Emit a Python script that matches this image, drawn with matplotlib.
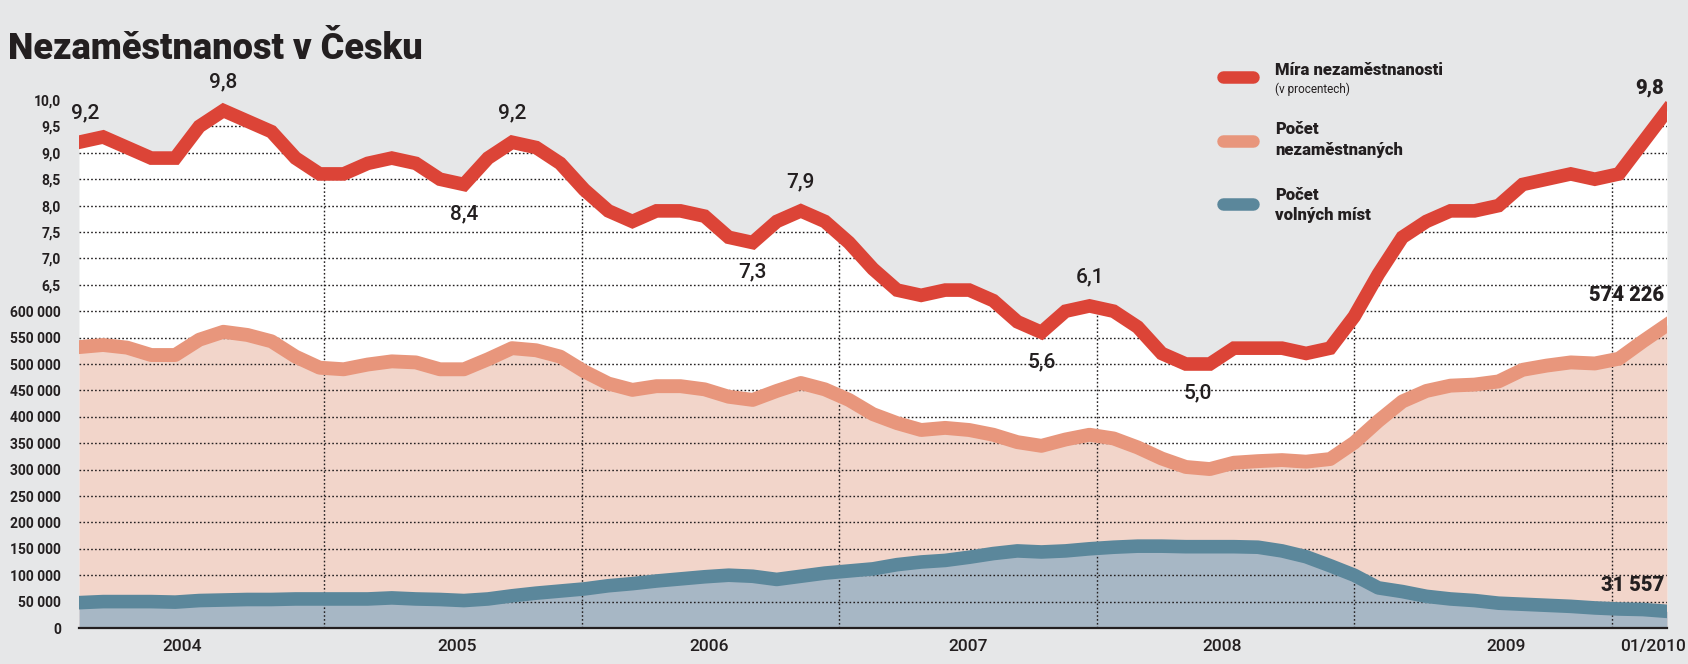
import numpy as np
import matplotlib
matplotlib.use('Agg')
import matplotlib.pyplot as plt
from matplotlib.lines import Line2D

# míra nezaměstnanosti v % (měsíční body, poslední = 01/2010)
mira = [9.2, 9.3, 9.1, 8.9, 8.9, 9.5, 9.8, 9.6, 9.4, 8.9, 8.6, 8.6, 8.8, 8.9, 8.8,
        8.5, 8.4, 8.9, 9.2, 9.1, 8.8, 8.3, 7.9, 7.7, 7.9, 7.9, 7.8, 7.4, 7.3, 7.7,
        7.9, 7.7, 7.3, 6.8, 6.4, 6.3, 6.4, 6.4, 6.2, 5.8, 5.6, 6.0, 6.1, 6.0, 5.7,
        5.2, 5.0, 5.0, 5.3, 5.3, 5.3, 5.2, 5.3, 5.9, 6.7, 7.4, 7.7, 7.9, 7.9, 8.0,
        8.4, 8.5, 8.6, 8.5, 8.6, 9.2, 9.8]
# počet nezaměstnaných
nezamestnani = [532000, 536000, 531000, 517000, 517000, 546000, 561000, 555000, 543000,
                514000, 493000, 490000, 499000, 505000, 503000, 490000, 490000, 509000,
                530000, 526000, 514000, 486000, 463000, 451000, 458000, 458000, 452000,
                438000, 432000, 449000, 464000, 452000, 432000, 405000, 388000, 375000,
                379000, 375000, 366000, 352000, 345000, 357000, 366000, 359000, 342000,
                321000, 305000, 301000, 313000, 316000, 318000, 315000, 320000, 351000,
                392000, 429000, 449000, 459000, 461000, 467000, 489000, 497000, 503000,
                501000, 510000, 543000, 574226]
# počet volných míst
volna_mista = [48000, 50000, 50000, 50000, 49000, 52000, 53000, 54000, 54000, 55000,
               55000, 55000, 55000, 57000, 55000, 54000, 52000, 55000, 61000, 66000,
               70000, 74000, 80000, 84000, 89000, 93000, 97000, 100000, 98000, 92000,
               98000, 104000, 108000, 112000, 120000, 125000, 128000, 134000, 141000,
               146000, 144000, 146000, 150000, 153000, 155000, 155000, 154000, 154000,
               154000, 153000, 146000, 135000, 118000, 100000, 76000, 69000, 60000,
               55000, 52000, 47000, 45000, 43000, 41000, 38000, 36000, 35000, 31557]

roky = ['2004', '2005', '2006', '2007', '2008', '2009', '01/2010']
roky_pos = [4.3, 15.7, 26.2, 36.95, 47.5, 59.3, 65.4]
hranice_roku = [10.2, 20.9, 31.6, 42.3, 53.0, 63.7]

tick_pocty = list(range(0, 600001, 50000))
tick_procenta = [6.5, 7.0, 7.5, 8.0, 8.5, 9.0, 9.5, 10.0]

# popisky u křivky míry: (index, nad/pod)
popisky = [(0, 1), (6, 1), (16, -1), (18, 1), (28, -1), (30, 1), (40, -1), (42, 1), (46.5, -1)]

BG = '#e6e7e8'
RED = '#dc4437'
SALMON = '#e8967c'
PINK = '#f2d5ca'
TEAL = '#5b879b'
BLUEFILL = '#a7b7c5'
INK = '#231f20'
FONT = 'Roboto'

W, H = 1688, 664


def lvl_pct(p):
    return np.asarray(p, dtype=float) * 2.0


def lvl_cnt(c):
    return np.asarray(c, dtype=float) / 50000.0


def fmt_pct(v):
    return f'{v:.1f}'.replace('.', ',')


def fmt_cnt(v):
    return f'{int(v):,}'.replace(',', ' ')


def px(x, y):
    return x / W, 1 - y / H


fig = plt.figure(figsize=(W / 100, H / 100), dpi=100, facecolor=BG)
ax = fig.add_axes([79 / W, 36 / H, 1588 / W, 567.6 / H])
ax.set_facecolor('none')

x = np.arange(len(mira))
y_red = lvl_pct(mira)
y_sal = lvl_cnt(nezamestnani)
y_teal = lvl_cnt(volna_mista)

white = ax.fill_between(x, 0, y_red, color='white', lw=0, zorder=1)
ax.fill_between(x, 0, y_sal, color=PINK, lw=0, zorder=2)
ax.fill_between(x, 0, y_teal, color=BLUEFILL, lw=0, zorder=3)

clip = white.get_paths()[0]
for lv in range(1, 21):
    g = ax.axhline(lv, color=INK, lw=1.0, ls=(0, (1.2, 1.6)), zorder=4)
    g.set_clip_path(clip, ax.transData)
for e in hranice_roku:
    g = ax.axvline(e, color=INK, lw=1.0, ls=(0, (1.2, 1.6)), zorder=4)
    g.set_clip_path(clip, ax.transData)

ax.plot(x, y_sal, color=SALMON, lw=10, solid_joinstyle='round', zorder=5)
ax.plot(x, y_teal, color=TEAL, lw=9.8, solid_joinstyle='round', zorder=5)
ax.plot(x, y_red, color=RED, lw=9.8, solid_joinstyle='miter', zorder=6)

ax.set_xlim(0, len(mira) - 1)
ax.set_ylim(0, 21.5)

yt = list(lvl_cnt(tick_pocty)) + list(lvl_pct(tick_procenta))
yl = [fmt_cnt(v) for v in tick_pocty] + [fmt_pct(v) for v in tick_procenta]
ax.set_yticks(yt, yl)
ax.set_xticks(roky_pos, roky)
ax.tick_params(axis='y', length=0, pad=13, labelsize=10, labelcolor=INK)
ax.tick_params(axis='x', length=0, pad=8, labelsize=12.5, labelcolor=INK)
for t in ax.get_yticklabels():
    t.set_fontfamily(FONT)
    t.set_fontweight('bold')
for t in ax.get_xticklabels():
    t.set_fontfamily(FONT)
    t.set_fontweight('medium')

for s in ['top', 'left', 'right']:
    ax.spines[s].set_visible(False)
ax.spines['bottom'].set_color(INK)
ax.spines['bottom'].set_linewidth(1.6)
ax.spines['bottom'].set_zorder(7)

# hodnoty u křivky míry
for i, d in popisky:
    v = mira[int(i)]
    ha = 'left' if i == 0 else 'center'
    dx = -6 if i == 0 else 0
    ax.annotate(fmt_pct(v), (i, lvl_pct(v)), xytext=(dx, 21 * d), textcoords='offset points',
                ha=ha, va='center', fontsize=15, family=FONT, weight='medium', color=INK,
                zorder=8)

# poslední hodnoty
n = len(mira) - 1
ax.annotate(fmt_pct(mira[n]), (n, lvl_pct(mira[n])), xytext=(-2, 16), textcoords='offset points',
            ha='right', va='center', fontsize=14.5, family=FONT, weight='heavy', color=INK,
            annotation_clip=False)
ax.annotate(fmt_cnt(nezamestnani[n]), (n, lvl_cnt(nezamestnani[n])), xytext=(-2, 21),
            textcoords='offset points', ha='right', va='center', fontsize=14.5, family=FONT,
            weight='heavy', color=INK, annotation_clip=False)
ax.annotate(fmt_cnt(volna_mista[n]), (n, lvl_cnt(volna_mista[n])), xytext=(-2, 18.5),
            textcoords='offset points', ha='right', va='center', fontsize=14.5, family=FONT,
            weight='heavy', color=INK, annotation_clip=False)

# titulek
fig.text(*px(8, 59), 'Nezaměstnanost v Česku', ha='left', va='baseline',
         fontsize=26, family=FONT, weight='black', color=INK)

# legenda
legenda = [
    (RED, 77, [('Míra nezaměstnanosti', 70, 12, 'black'), ('(v procentech)', 89, 8.5, 'normal')]),
    (SALMON, 141, [('Počet', 129, 12, 'black'), ('nezaměstnaných', 150, 12, 'black')]),
    (TEAL, 204, [('Počet', 195, 12, 'black'), ('volných míst', 215.5, 12, 'black')]),
]
for col, ys, texty in legenda:
    x0, y0 = px(1223, ys)
    x1, _ = px(1253, ys)
    fig.add_artist(Line2D([x0, x1], [y0, y0], color=col, lw=9, solid_capstyle='round',
                          transform=fig.transFigure))
    for txt, yy, fs, wt in texty:
        fig.text(*px(1275, yy), txt, ha='left', va='center', fontsize=fs, family=FONT,
                 weight=wt, color=INK)

fig.savefig('out.png', dpi=100, facecolor=BG)
